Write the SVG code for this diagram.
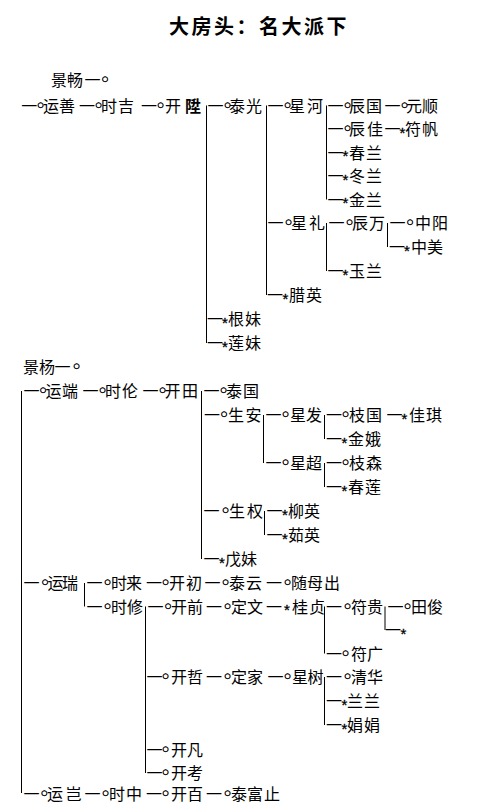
<svg xmlns="http://www.w3.org/2000/svg" width="492" height="810" viewBox="0 0 492 810">
<style>
text{font-family:"Noto Sans CJK SC","Noto Sans CJK TC",sans-serif;font-size:16px;fill:#000}
.t{font-size:20px;font-weight:bold;letter-spacing:2.5px}
.o{font-family:"DejaVu Sans",sans-serif;font-size:7px;stroke:#000;stroke-width:0.5}
.s{font-family:"Liberation Sans",sans-serif;font-size:15px;stroke:#000;stroke-width:0.3}
.b{font-weight:bold}
#connectors line{stroke:#000;stroke-width:1}
</style>
<rect width="492" height="810" fill="#fff"/>
<text class="t" x="169" y="34">大房头：名大派下</text>
<g id="connectors">
<line x1="206.5" y1="105.5" x2="206.5" y2="343"/>
<line x1="266.5" y1="105.5" x2="266.5" y2="295"/>
<line x1="326.5" y1="105.5" x2="326.5" y2="199.5"/>
<line x1="326.5" y1="223" x2="326.5" y2="271"/>
<line x1="387.5" y1="223" x2="387.5" y2="247"/>
<line x1="21.5" y1="391" x2="21.5" y2="793"/>
<line x1="201.5" y1="391" x2="201.5" y2="559"/>
<line x1="263.5" y1="415" x2="263.5" y2="463"/>
<line x1="324.5" y1="415" x2="324.5" y2="439"/>
<line x1="324.5" y1="463" x2="324.5" y2="487"/>
<line x1="264.5" y1="511" x2="264.5" y2="535"/>
<line x1="84.5" y1="583" x2="84.5" y2="606.5"/>
<line x1="145.5" y1="606.5" x2="145.5" y2="773"/>
<line x1="324.5" y1="606.5" x2="324.5" y2="653.5"/>
<line x1="385" y1="606.5" x2="385" y2="630"/>
<line x1="324.5" y1="677" x2="324.5" y2="725"/>
</g>
<g id="jingchang"><text y="86"><tspan x="51 67">景畅</tspan><tspan x="84.5">一</tspan><tspan class="o" x="102" dy="-5">○</tspan></text></g>
<g id="yunshan"><text y="111.5"><tspan x="21.2">一</tspan><tspan class="o" x="37.5" dy="-5">○</tspan><tspan x="43 59" dy="5">运善</tspan></text></g>
<g id="shiji"><text y="111.5"><tspan x="79">一</tspan><tspan class="o" x="95.5" dy="-5">○</tspan><tspan x="101 118" dy="5">时吉</tspan></text></g>
<g id="kaisheng"><text y="111.5"><tspan x="141">一</tspan><tspan class="o" x="157.5" dy="-5">○</tspan><tspan x="165" dy="5">开</tspan><tspan class="b" x="185">陞</tspan></text></g>
<g id="taiguang"><text y="111.5"><tspan x="207.5">一</tspan><tspan class="o" x="224.5" dy="-5">○</tspan><tspan x="229 246" dy="5">泰光</tspan></text></g>
<g id="xinghe"><text y="111.5"><tspan x="267.5">一</tspan><tspan class="o" x="284.5" dy="-5">○</tspan><tspan x="289 307" dy="5">星河</tspan></text></g>
<g id="chenguo"><text y="111.5"><tspan x="327.5">一</tspan><tspan class="o" x="344.5" dy="-5">○</tspan><tspan x="349 366" dy="5">辰国</tspan></text></g>
<g id="yuanshun"><text y="111.5"><tspan x="384.5">一</tspan><tspan class="o" x="401.5" dy="-5">○</tspan><tspan x="406 422" dy="5">元顺</tspan></text></g>
<g id="chenjia"><text y="135"><tspan x="327.5">一</tspan><tspan class="o" x="344.5" dy="-5">○</tspan><tspan x="349 367" dy="5">辰佳</tspan></text></g>
<g id="fufan"><text y="135"><tspan x="384.5">一</tspan><tspan class="s" x="399.5" dy="2.5">*</tspan><tspan x="405 422" dy="-2.5">符帆</tspan></text></g>
<g id="chunlan"><text y="158.5"><tspan x="327.5">一</tspan><tspan class="s" x="342.5" dy="2.5">*</tspan><tspan x="349 366" dy="-2.5">春兰</tspan></text></g>
<g id="donglan"><text y="182"><tspan x="327.5">一</tspan><tspan class="s" x="342.5" dy="2.5">*</tspan><tspan x="349 366" dy="-2.5">冬兰</tspan></text></g>
<g id="jinlan"><text y="205.5"><tspan x="327.5">一</tspan><tspan class="s" x="342.5" dy="2.5">*</tspan><tspan x="349 366" dy="-2.5">金兰</tspan></text></g>
<g id="xingli"><text y="229"><tspan x="267.5">一</tspan><tspan class="o" x="285.5" dy="-5">○</tspan><tspan x="291 309" dy="5">星礼</tspan></text></g>
<g id="chenwan"><text y="229"><tspan x="328.5">一</tspan><tspan class="o" x="346.5" dy="-5">○</tspan><tspan x="352 369" dy="5">辰万</tspan></text></g>
<g id="zhongyang"><text y="229"><tspan x="389.5">一</tspan><tspan class="o" x="407" dy="-5">○</tspan><tspan x="415 432" dy="5">中阳</tspan></text></g>
<g id="zhongmei"><text y="253"><tspan x="389">一</tspan><tspan class="s" x="404" dy="2.5">*</tspan><tspan x="411 427" dy="-2.5">中美</tspan></text></g>
<g id="yulan"><text y="277"><tspan x="327.5">一</tspan><tspan class="s" x="342.5" dy="2.5">*</tspan><tspan x="349 366" dy="-2.5">玉兰</tspan></text></g>
<g id="laying"><text y="301"><tspan x="267">一</tspan><tspan class="s" x="282.5" dy="2.5">*</tspan><tspan x="289 306" dy="-2.5">腊英</tspan></text></g>
<g id="genmei"><text y="325"><tspan x="207">一</tspan><tspan class="s" x="222" dy="2.5">*</tspan><tspan x="228 245" dy="-2.5">根妹</tspan></text></g>
<g id="lianmei"><text y="349"><tspan x="207">一</tspan><tspan class="s" x="222" dy="2.5">*</tspan><tspan x="228 245" dy="-2.5">莲妹</tspan></text></g>
<g id="jingyang"><text y="373"><tspan x="23 39">景杨</tspan><tspan x="54.5">一</tspan><tspan class="o" x="73.5" dy="-5">○</tspan></text></g>
<g id="yunduan"><text y="397"><tspan x="23.5">一</tspan><tspan class="o" x="40" dy="-5">○</tspan><tspan x="45.5 62" dy="5">运端</tspan></text></g>
<g id="shilun"><text y="397"><tspan x="82.5">一</tspan><tspan class="o" x="99.5" dy="-5">○</tspan><tspan x="105 122" dy="5">时伦</tspan></text></g>
<g id="kaitian"><text y="397"><tspan x="142.5">一</tspan><tspan class="o" x="159.5" dy="-5">○</tspan><tspan x="164.5 182" dy="5">开田</tspan></text></g>
<g id="taiguo"><text y="397"><tspan x="203.5">一</tspan><tspan class="o" x="220.5" dy="-5">○</tspan><tspan x="226 243" dy="5">泰国</tspan></text></g>
<g id="shengan"><text y="421"><tspan x="204">一</tspan><tspan class="o" x="221" dy="-5">○</tspan><tspan x="228 245.5" dy="5">生安</tspan></text></g>
<g id="xingfa"><text y="421"><tspan x="265.5">一</tspan><tspan class="o" x="282.5" dy="-5">○</tspan><tspan x="290 306" dy="5">星发</tspan></text></g>
<g id="zhiguo"><text y="421"><tspan x="326">一</tspan><tspan class="o" x="342.5" dy="-5">○</tspan><tspan x="349 366" dy="5">枝国</tspan></text></g>
<g id="jiaqi"><text y="421"><tspan x="386.5">一</tspan><tspan class="s" x="401.5" dy="2.5">*</tspan><tspan x="409 426" dy="-2.5">佳琪</tspan></text></g>
<g id="jine"><text y="445"><tspan x="326">一</tspan><tspan class="s" x="341.5" dy="2.5">*</tspan><tspan x="348 365" dy="-2.5">金娥</tspan></text></g>
<g id="xingchao"><text y="469"><tspan x="265.5">一</tspan><tspan class="o" x="282.5" dy="-5">○</tspan><tspan x="290 306" dy="5">星超</tspan></text></g>
<g id="zhisen"><text y="469"><tspan x="326">一</tspan><tspan class="o" x="342.5" dy="-5">○</tspan><tspan x="349 366" dy="5">枝森</tspan></text></g>
<g id="chunlian"><text y="493"><tspan x="326">一</tspan><tspan class="s" x="341.5" dy="2.5">*</tspan><tspan x="348 365" dy="-2.5">春莲</tspan></text></g>
<g id="shengquan"><text y="517"><tspan x="203.5">一</tspan><tspan class="o" x="222.5" dy="-5">○</tspan><tspan x="229 247" dy="5">生权</tspan></text></g>
<g id="liuying"><text y="517"><tspan x="266.5">一</tspan><tspan class="s" x="282" dy="2.5">*</tspan><tspan x="288 304" dy="-2.5">柳英</tspan></text></g>
<g id="ruying"><text y="541"><tspan x="266.5">一</tspan><tspan class="s" x="282" dy="2.5">*</tspan><tspan x="288 304" dy="-2.5">茹英</tspan></text></g>
<g id="xumei"><text y="565"><tspan x="203.5">一</tspan><tspan class="s" x="219" dy="2.5">*</tspan><tspan x="225 241" dy="-2.5">戊妹</tspan></text></g>
<g id="yunrui"><text y="589"><tspan x="23.5">一</tspan><tspan class="o" x="42" dy="-5">○</tspan><tspan x="47.5 62" dy="5">运瑞</tspan></text></g>
<g id="shilai"><text y="589"><tspan x="86.5">一</tspan><tspan class="o" x="104.5" dy="-5">○</tspan><tspan x="111 126" dy="5">时来</tspan></text></g>
<g id="kaichu"><text y="589"><tspan x="146">一</tspan><tspan class="o" x="162.5" dy="-5">○</tspan><tspan x="169 186" dy="5">开初</tspan></text></g>
<g id="taiyun"><text y="589"><tspan x="204.5">一</tspan><tspan class="o" x="222.5" dy="-5">○</tspan><tspan x="229 246" dy="5">泰云</tspan></text></g>
<g id="suimuchu"><text y="589"><tspan x="266">一</tspan><tspan class="o" x="284.5" dy="-5">○</tspan><tspan x="291 307 324" dy="5">随母出</tspan></text></g>
<g id="shixiu"><text y="612.5"><tspan x="86.5">一</tspan><tspan class="o" x="104.5" dy="-5">○</tspan><tspan x="111 127" dy="5">时修</tspan></text></g>
<g id="kaiqian"><text y="612.5"><tspan x="147.5">一</tspan><tspan class="o" x="165" dy="-5">○</tspan><tspan x="171 187" dy="5">开前</tspan></text></g>
<g id="dingwen"><text y="612.5"><tspan x="206">一</tspan><tspan class="o" x="224.5" dy="-5">○</tspan><tspan x="231 247" dy="5">定文</tspan></text></g>
<g id="guizhen"><text y="612.5"><tspan x="266">一</tspan><tspan class="s" x="284" dy="2.5">*</tspan><tspan x="292 309" dy="-2.5">桂贞</tspan></text></g>
<g id="fugui"><text y="612.5"><tspan x="326">一</tspan><tspan class="o" x="344.5" dy="-5">○</tspan><tspan x="351 367" dy="5">符贵</tspan></text></g>
<g id="tianjun"><text y="612.5"><tspan x="387.5">一</tspan><tspan class="o" x="404.5" dy="-5">○</tspan><tspan x="411 427" dy="5">田俊</tspan></text></g>
<g id="unnamed"><text y="636"><tspan x="385">一</tspan><tspan class="s" x="400.5" dy="2.5">*</tspan></text></g>
<g id="fuguang"><text y="659.5"><tspan x="326">一</tspan><tspan class="o" x="342.5" dy="-5">○</tspan><tspan x="351 367" dy="5">符广</tspan></text></g>
<g id="kaizhe"><text y="683"><tspan x="146.5">一</tspan><tspan class="o" x="162.5" dy="-5">○</tspan><tspan x="171 187" dy="5">开哲</tspan></text></g>
<g id="dingjia"><text y="683"><tspan x="206">一</tspan><tspan class="o" x="224.5" dy="-5">○</tspan><tspan x="231 247" dy="5">定家</tspan></text></g>
<g id="xingshu"><text y="683"><tspan x="267.5">一</tspan><tspan class="o" x="284.5" dy="-5">○</tspan><tspan x="292 307.5" dy="5">星树</tspan></text></g>
<g id="qinghua"><text y="683"><tspan x="326">一</tspan><tspan class="o" x="344.5" dy="-5">○</tspan><tspan x="351 367" dy="5">清华</tspan></text></g>
<g id="lanlan"><text y="707"><tspan x="326">一</tspan><tspan class="s" x="341.5" dy="2.5">*</tspan><tspan x="347 364" dy="-2.5">兰兰</tspan></text></g>
<g id="juanjuan"><text y="731"><tspan x="326">一</tspan><tspan class="s" x="341.5" dy="2.5">*</tspan><tspan x="347 364" dy="-2.5">娟娟</tspan></text></g>
<g id="kaifan"><text y="756"><tspan x="146.5">一</tspan><tspan class="o" x="162.5" dy="-5">○</tspan><tspan x="171 187" dy="5">开凡</tspan></text></g>
<g id="kaikao"><text y="779"><tspan x="146.5">一</tspan><tspan class="o" x="162.5" dy="-5">○</tspan><tspan x="171 187" dy="5">开考</tspan></text></g>
<g id="yunqi"><text y="799.5"><tspan x="23.5">一</tspan><tspan class="o" x="41.2" dy="-5">○</tspan><tspan x="47 65.5" dy="5">运岂</tspan></text></g>
<g id="shizhong"><text y="799.5"><tspan x="84.5">一</tspan><tspan class="o" x="102.5" dy="-5">○</tspan><tspan x="109 126" dy="5">时中</tspan></text></g>
<g id="kaibai"><text y="799.5"><tspan x="146">一</tspan><tspan class="o" x="162.5" dy="-5">○</tspan><tspan x="171 187" dy="5">开百</tspan></text></g>
<g id="taifuzhi"><text y="799.5"><tspan x="206">一</tspan><tspan class="o" x="224.5" dy="-5">○</tspan><tspan x="231 247 264" dy="5">泰富止</tspan></text></g>
</svg>
